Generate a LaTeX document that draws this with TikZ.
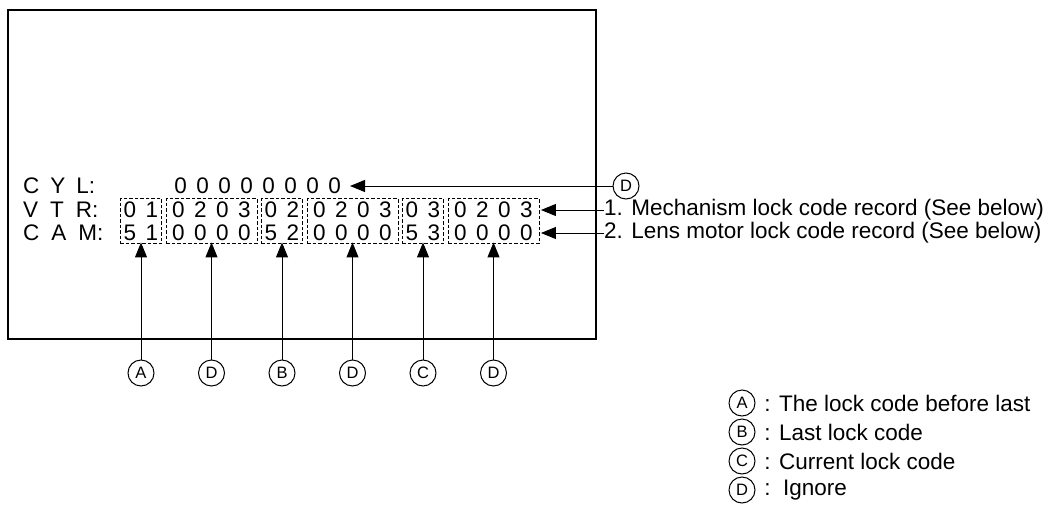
\documentclass[tikz,border=0pt]{standalone}
\usepackage{fontspec}
\setmainfont{Liberation Sans}
\usetikzlibrary{arrows.meta}
\newcommand\Dg[1]{\makebox[22pt]{#1}}
\begin{document}
\begin{tikzpicture}[x=1pt,y=-1pt,
  txt/.style={inner sep=0pt, font=\fontsize{22.5}{26}\selectfont},
  circ/.style={circle, draw, line width=1pt, minimum size=26pt, inner sep=0pt, font=\fontsize{16.5}{19}\selectfont},
  dbox/.style={draw, dash pattern=on 3.5pt off 2pt, line width=0.9pt, inner sep=0pt, minimum height=45pt},
  two/.style={dbox, minimum width=41.5pt},
  four/.style={dbox, minimum width=91pt},
  arr/.style={line width=1pt, -{Triangle[length=15pt,width=12pt]}},
]
\useasboundingbox (0,0) rectangle (1060,509);
\draw[line width=2.6pt] (8,10) rectangle (596,339);

% row labels
\node[txt, anchor=west] (lcyl) at (23,186) {\spaceskip=11pt C Y L:};
\node[txt, anchor=west] (lvtr) at (23,210) {\spaceskip=12pt V T R:};
\node[txt, anchor=west] (lcam) at (23,233) {\spaceskip=12pt C A M:};

% CYL digits
\node[txt, anchor=west] (cylz) at (169.5,186) {\Dg0\Dg0\Dg0\Dg0\Dg0\Dg0\Dg0\Dg0};

% dashed boxes
\node[two]  (b1) at (141,221) {};
\node[four] (b2) at (211.5,221) {};
\node[two]  (b3) at (282,221) {};
\node[four] (b4) at (352.5,221) {};
\node[two]  (b5) at (423,221) {};
\node[four] (b6) at (493.5,221) {};

% digits
\node[txt] (v1) at (141,210) {\Dg0\Dg1};
\node[txt] (c1) at (141,233) {\Dg5\Dg1};
\node[txt] (v2) at (211.5,210) {\Dg0\Dg2\Dg0\Dg3};
\node[txt] (c2) at (211.5,233) {\Dg0\Dg0\Dg0\Dg0};
\node[txt] (v3) at (282,210) {\Dg0\Dg2};
\node[txt] (c3) at (282,233) {\Dg5\Dg2};
\node[txt] (v4) at (352.5,210) {\Dg0\Dg2\Dg0\Dg3};
\node[txt] (c4) at (352.5,233) {\Dg0\Dg0\Dg0\Dg0};
\node[txt] (v5) at (423,210) {\Dg0\Dg3};
\node[txt] (c5) at (423,233) {\Dg5\Dg3};
\node[txt] (v6) at (493.5,210) {\Dg0\Dg2\Dg0\Dg3};
\node[txt] (c6) at (493.5,233) {\Dg0\Dg0\Dg0\Dg0};

% CYL arrow
\node[circ] (dcyl) at (626,186) {D};
\coordinate (cyltip) at (350,186);
\draw[arr] (dcyl) -- (cyltip);

% right-hand records
\node[txt, anchor=west] (m1) at (604,210) {1. Mechanism lock code record (See below)};
\node[txt, anchor=west] (m2) at (604,233) {2. Lens motor lock code record (See below)};
\draw[arr] (m1.west) -- ([xshift=1.5pt]m1.west -| b6.east);
\draw[arr] (m2.west) -- ([xshift=1.5pt]m2.west -| b6.east);

% bottom circles
\node[circ] (cA)  at (141,373) {A};
\node[circ] (cD1) at (211.5,373) {D};
\node[circ] (cB)  at (282,373) {B};
\node[circ] (cD2) at (352.5,373) {D};
\node[circ] (cC)  at (423,373) {C};
\node[circ] (cD3) at (493.5,373) {D};
\draw[arr] (cA)  -- ([yshift=1.5pt]b1.south);
\draw[arr] (cD1) -- ([yshift=1.5pt]b2.south);
\draw[arr] (cB)  -- ([yshift=1.5pt]b3.south);
\draw[arr] (cD2) -- ([yshift=1.5pt]b4.south);
\draw[arr] (cC)  -- ([yshift=1.5pt]b5.south);
\draw[arr] (cD3) -- ([yshift=1.5pt]b6.south);

% legend
\node[circ] (gA) at (742,403) {A};
\node[circ] (gB) at (742,432) {B};
\node[circ] (gC) at (742,461) {C};
\node[circ] (gD) at (742,490) {D};
\node[txt, anchor=west] (tA) at (758,403) {\ : The lock code before last};
\node[txt, anchor=west] (tB) at (758,432) {\ : Last lock code};
\node[txt, anchor=west] (tC) at (758,461) {\ : Current lock code};
\node[txt, anchor=west] (tD) at (758,490) {\ :\ \ Ignore};
\end{tikzpicture}
\end{document}
